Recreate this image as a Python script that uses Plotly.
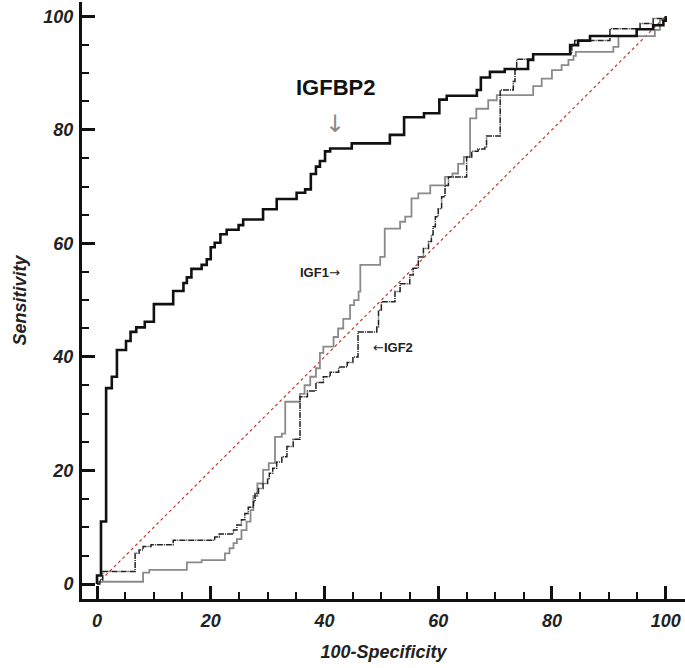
import plotly.graph_objects as go

# ---------------- data ----------------
igfbp2_fpr = [0, 0, 0.7, 1.6, 2.6, 3.5, 5.1, 5.9, 6.9, 8.4, 10.0, 13.4, 15.2, 15.8, 16.6,
              18.4, 19.3, 20.0, 20.7, 21.7, 22.8, 24.9, 25.7, 29.2, 31.6, 35.1, 36.6, 37.6,
              38.5, 39.2, 40.1, 41.0, 44.8, 51.5, 54.0, 57.5, 60.2, 61.5, 66.8, 67.5, 69.1,
              71.7, 75.8, 76.7, 83.2, 84.6, 86.7, 94.9, 97.8, 99.6, 100]
igfbp2_tpr = [0, 1.5, 11, 34.5, 36.5, 41.2, 42.8, 44.4, 45.2, 46.2, 49.3, 51.6, 53.0, 54.0, 55.5,
              56.2, 57.2, 59.3, 60.1, 61.6, 62.4, 63.2, 64.2, 66.0, 67.8, 68.9, 69.5, 72.2,
              73.5, 74.5, 76.2, 76.7, 77.6, 79.1, 82.2, 82.9, 85.3, 86.0, 87.0, 89.2, 90.2,
              90.7, 92.3, 93.3, 94.9, 95.7, 96.5, 97.7, 98.4, 99.2, 100]

igf1_fpr = [0, 0.3, 8.1, 9.2, 15.8, 18.4, 22.5, 23.3, 24.0, 24.6, 25.4, 26.3, 27.0, 27.5, 28.2,
            29.2, 30.2, 31.3, 32.5, 33.1, 35.7, 36.5, 37.5, 38.5, 39.2, 39.8, 41.6, 42.4, 43.3,
            44.5, 45.2, 46.0, 46.3, 49.8, 50.6, 53.3, 54.2, 55.3, 56.5, 58.6, 61.2, 62.5, 63.5,
            64.5, 65.6, 66.7, 68.8, 70.3, 76.7, 78.2, 80.0, 81.7, 82.9, 83.8, 84.2, 90.8, 91.7,
            98.1, 99.0, 100]
igf1_tpr = [0, 0.4, 2.0, 2.5, 3.8, 4.2, 5.4, 6.3, 7.2, 7.9, 9.5, 11.0, 13.0, 15.5, 17.7,
            20.1, 21.3, 25.9, 26.5, 32.1, 33.5, 35.0, 36.5, 38.0, 40.7, 41.8, 43.5, 45.0, 46.7,
            49.1, 50.0, 51.5, 56.2, 57.6, 62.6, 63.8, 64.7, 67.9, 68.8, 70.2, 71.7, 72.3, 74.0,
            75.2, 82.0, 83.7, 85.2, 86.1, 87.7, 89.0, 90.5, 91.4, 92.3, 93.0, 93.7, 94.6, 96.5,
            97.6, 99.3, 100]

igf2_fpr = [0, 0.5, 1.0, 6.7, 7.4, 8.1, 9.5, 13.4, 20.7, 21.5, 24.0, 24.6, 25.4, 26.0, 26.6,
            27.5, 27.8, 28.4, 29.2, 30.0, 30.3, 30.9, 31.6, 32.5, 33.4, 34.5, 35.7, 37.0, 38.5,
            39.8, 41.0, 42.5, 44.0, 45.0, 45.9, 49.2, 49.5, 50.0, 52.4, 53.3, 55.0, 55.6, 56.5,
            57.4, 58.3, 58.8, 59.1, 59.5, 60.0, 60.6, 61.2, 61.8, 65.0, 65.9, 67.0, 68.2, 68.5,
            70.9, 73.2, 73.5, 73.8, 76.7, 83.5, 84.0, 90.2, 95.5, 97.8, 100]
igf2_tpr = [0, 0.7, 2.2, 5.4, 6.0, 6.6, 6.9, 7.7, 8.3, 8.8, 9.5, 10.4, 11.3, 12.4, 13.5,
            14.5, 16.0, 16.8, 17.7, 18.6, 19.5, 20.4, 21.5, 22.4, 24.2, 25.5, 33.0, 34.0, 35.5,
            36.5, 37.3, 38.2, 39.0, 40.0, 44.4, 45.3, 48.2, 49.7, 51.5, 52.9, 54.4, 55.6, 57.6,
            59.1, 60.3, 61.5, 62.9, 64.7, 66.1, 68.2, 70.2, 71.7, 75.2, 76.2, 76.6, 77.0, 78.9,
            87.0, 88.5, 90.5, 92.4, 93.4, 95.0, 95.7, 97.8, 98.7, 99.6, 100]

ref_line = [0, 100]

x_ticks = [0, 20, 40, 60, 80, 100]
y_ticks = [0, 20, 40, 60, 80, 100]

# ---------------- figure ----------------
fig = go.Figure()

fig.add_trace(go.Scatter(x=ref_line, y=ref_line, mode="lines",
                         line=dict(color="#c0392b", width=1.2, dash="dot"),
                         hoverinfo="skip", name="Reference"))
fig.add_trace(go.Scatter(x=igf1_fpr, y=igf1_tpr, mode="lines", line_shape="hv",
                         line=dict(color="#8a8a8a", width=1.8), name="IGF1"))
fig.add_trace(go.Scatter(x=igf2_fpr, y=igf2_tpr, mode="lines", line_shape="hv",
                         line=dict(color="#222222", width=1.5, dash="6px,1px,1px,1px"),
                         name="IGF2"))
fig.add_trace(go.Scatter(x=igfbp2_fpr, y=igfbp2_tpr, mode="lines", line_shape="hv",
                         line=dict(color="#111111", width=2.6), name="IGFBP2"))

base = "Liberation Sans, Arial, sans-serif"
tickfont = dict(family=base, size=18, color="#222222", weight="bold", style="italic")
titlefont = dict(family=base, size=18, color="#222222", weight="bold", style="italic")

axis_common = dict(
    showgrid=False, zeroline=False, showline=True, linecolor="#111111", linewidth=3,
    ticks="inside", ticklen=13, tickwidth=2.5, tickcolor="#111111",
    tickfont=tickfont, automargin=False,
    minor=dict(dtick=5, ticks="inside", ticklen=7, tickwidth=1.5, tickcolor="#111111"),
)

fig.update_xaxes(range=[-2.64, 103.4], tickvals=x_ticks, ticktext=[str(v) for v in x_ticks],
                 title=dict(text="100-Specificity", font=titlefont, standoff=16),
                 ticklabelstandoff=3, **axis_common)
fig.update_yaxes(range=[-2.64, 102.5], tickvals=y_ticks, ticktext=[str(v) for v in y_ticks],
                 title=dict(text="Sensitivity", font=titlefont, standoff=13),
                 ticklabelstandoff=2, **axis_common)

ann_font = "Liberation Sans, Arial, sans-serif"
fig.add_annotation(x=41.9, y=87.4, text="<b>IGFBP2</b>", showarrow=False,
                   font=dict(family=ann_font, size=22, color="#111111"))
fig.add_annotation(x=41.9, y=81.0, text="↓", showarrow=False,
                   font=dict(family="DejaVu Sans", size=24, color="#8a8a8a"))
fig.add_annotation(x=39.3, y=54.9,
                   text="<b>IGF1</b><span style='font-family:DejaVu Sans'>→</span>",
                   showarrow=False, font=dict(family=ann_font, size=13, color="#222222"))
fig.add_annotation(x=52.0, y=41.7,
                   text="<span style='font-family:DejaVu Sans'>←</span><b>IGF2</b>",
                   showarrow=False, font=dict(family=ann_font, size=13, color="#222222"))

fig.update_layout(
    width=685, height=668,
    margin=dict(l=82, r=0, t=2, b=69),
    paper_bgcolor="white", plot_bgcolor="white",
    showlegend=False,
)

fig.write_html("out.html", config={"displayModeBar": False},
               post_script="document.body.style.margin='0';")
